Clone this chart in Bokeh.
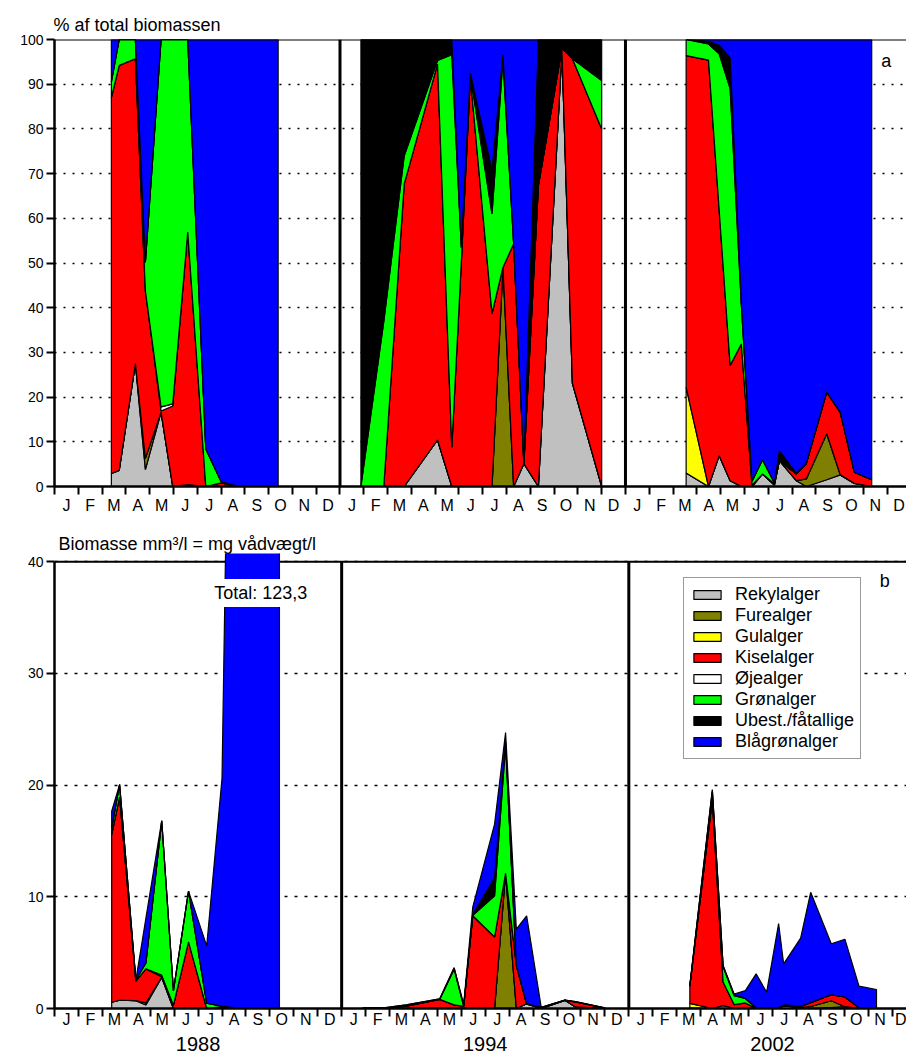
import numpy as np
from bokeh.plotting import figure
from bokeh.layouts import column
from bokeh.models import Range1d, FixedTicker, Span, Label, Legend, LegendItem, LinearAxis
from bokeh.embed import file_html
from bokeh.resources import INLINE

FONT = "Liberation Sans"
YEARS = ["1988", "1994", "2002"]
MONTHS = ["J", "F", "M", "A", "M", "J", "J", "A", "S", "O", "N", "D"]
GROUPS = ["Rekylalger", "Furealger", "Gulalger", "Kiselalger", "Øjealger",
          "Grønalger", "Ubest./fåtallige", "Blågrønalger"]
COLORS = ["#c0c0c0", "#808000", "#ffff00", "#ff0000", "#ffffff",
          "#00ff00", "#000000", "#0000ff"]

# sampling dates, months after 1 January of each year
t88 = [2.39, 2.72, 3.40, 3.82, 4.48, 4.97, 5.60, 6.36, 7.00, 7.75, 9.40]
t94 = [0.88, 1.84, 2.70, 4.10, 4.70, 5.10, 5.48, 6.39, 6.85, 7.30, 7.73, 8.34, 9.33, 9.77, 11.00]
t02 = [2.55, 3.49, 3.94, 4.40, 4.87, 5.32, 5.76, 6.26, 6.47, 7.18, 7.60, 8.46, 9.03, 9.62, 10.35]

# ---- a) % af total biomassen ----
a88_rek = [2.9, 3.6, 27.5, 3.8, 16.6, 0.0, 0.4, 0.0, 0.0, 0.0, 0.0]
a88_fur = [0.0, 0.0, 0.0, 2.5, 0.0, 0.0, 0.0, 0.0, 0.0, 0.0, 0.0]
a88_gul = [0.0, 0.0, 0.0, 0.0, 0.0, 0.0, 0.0, 0.0, 0.0, 0.0, 0.0]
a88_kis = [84.1, 90.6, 68.2, 37.5, 0.3, 18.0, 56.5, 0.0, 0.8, 0.0, 0.0]
a88_oje = [0.0, 0.0, 0.0, 0.0, 0.9, 0.5, 0.0, 0.0, 0.0, 0.0, 0.0]
a88_gro = [3.5, 5.8, 4.3, 6.4, 82.2, 81.5, 43.1, 8.4, 0.3, 0.0, 0.0]
a88_ube = [0.0, 0.0, 0.0, 0.0, 0.0, 0.0, 0.0, 0.0, 0.0, 0.0, 0.0]
a88_bla = [9.5, 0.0, 0.0, 49.8, 0.0, 0.0, 0.0, 91.6, 98.9, 100.0, 100.0]

a94_rek = [0.0, 0.0, 0.0, 10.4, 0.0, 0.0, 0.0, 0.0, 0.0, 0.0, 5.1, 0.0, 97.5, 23.1, 0.0]
a94_fur = [0.0, 0.0, 0.0, 0.0, 0.0, 0.0, 0.0, 0.0, 49.0, 0.0, 0.0, 0.0, 0.0, 0.0, 0.0]
a94_gul = [0.0, 0.0, 0.0, 0.0, 0.0, 0.0, 0.0, 0.0, 0.0, 0.0, 0.0, 0.0, 0.0, 0.0, 0.0]
a94_kis = [0.0, 0.0, 67.7, 84.1, 8.8, 50.2, 91.5, 38.7, 0.0, 54.3, 0.0, 67.3, 0.5, 72.6, 80.0]
a94_oje = [0.0, 0.0, 0.0, 0.0, 0.0, 0.0, 0.0, 0.0, 0.0, 0.0, 0.0, 0.0, 0.0, 0.0, 0.0]
a94_gro = [0.0, 36.9, 6.3, 0.8, 87.8, 3.3, 0.5, 22.3, 46.5, 0.0, 0.0, 0.0, 0.0, 0.0, 10.8]
a94_ube = [100.0, 63.1, 26.0, 4.7, 3.4, 0.0, 0.5, 9.7, 1.1, 0.0, 0.0, 32.7, 2.0, 4.3, 9.2]
a94_bla = [0.0, 0.0, 0.0, 0.0, 0.0, 46.5, 7.5, 29.3, 3.4, 45.7, 94.9, 0.0, 0.0, 0.0, 0.0]

a02_rek = [3.0, 0.0, 6.9, 1.3, 0.0, 0.0, 2.8, 0.3, 5.8, 1.3, 0.0, 1.5, 2.6, 0.7, 0.0]
a02_fur = [0.0, 0.0, 0.0, 0.0, 0.0, 0.0, 0.0, 0.0, 0.0, 0.0, 1.7, 10.3, 0.0, 0.0, 0.0]
a02_gul = [19.2, 0.0, 0.0, 0.0, 0.0, 0.0, 0.0, 0.0, 0.0, 0.0, 0.0, 0.0, 0.0, 0.0, 0.0]
a02_kis = [74.2, 95.4, 54.9, 25.8, 31.9, 0.3, 0.0, 0.3, 0.0, 1.5, 3.4, 9.3, 14.0, 2.5, 1.5]
a02_oje = [0.0, 0.0, 0.0, 0.0, 0.0, 0.0, 0.0, 0.0, 0.0, 0.0, 0.0, 0.0, 0.0, 0.0, 0.0]
a02_gro = [3.6, 3.6, 35.0, 61.9, 8.8, 0.9, 3.2, 0.2, 0.0, 0.0, 0.0, 0.0, 0.0, 0.0, 0.0]
a02_ube = [0.0, 0.6, 1.9, 6.9, 0.5, 0.0, 0.0, 0.0, 2.2, 0.2, 0.0, 0.0, 0.0, 0.0, 0.0]
a02_bla = [0.0, 0.4, 1.3, 4.1, 58.8, 98.8, 94.0, 99.2, 92.0, 97.0, 94.9, 78.9, 83.4, 96.8, 98.5]

# ---- b) Biomasse mm3/l ----
b88_rek = [0.56, 0.74, 0.70, 0.31, 2.79, 0.0, 0.04, 0.0, 0.0, 0.0, 0.0]
b88_fur = [0.0, 0.0, 0.0, 0.20, 0.0, 0.0, 0.0, 0.0, 0.0, 0.0, 0.0]
b88_gul = [0.0, 0.0, 0.0, 0.0, 0.0, 0.0, 0.0, 0.0, 0.0, 0.0, 0.0]
b88_kis = [15.0, 18.2, 1.74, 3.04, 0.05, 0.29, 5.93, 0.0, 0.16, 0.0, 0.0]
b88_oje = [0.0, 0.0, 0.0, 0.0, 0.15, 0.01, 0.0, 0.0, 0.0, 0.0, 0.0]
b88_gro = [0.6, 1.1, 0.11, 0.52, 13.81, 1.30, 4.53, 0.47, 0.06, 0.0, 0.0]
b88_ube = [0.0, 0.0, 0.0, 0.0, 0.0, 0.0, 0.0, 0.0, 0.0, 0.0, 0.0]
b88_bla = [1.5, 0.0, 0.0, 4.03, 0.0, 0.0, 0.0, 5.13, 20.38, 123.3, 45.0]

b94_rek = [0.0, 0.0, 0.0, 0.09, 0.0, 0.0, 0.0, 0.0, 0.0, 0.0, 0.42, 0.0, 0.73, 0.14, 0.0]
b94_fur = [0.0, 0.0, 0.0, 0.0, 0.0, 0.0, 0.0, 0.0, 12.1, 0.0, 0.0, 0.0, 0.0, 0.0, 0.0]
b94_gul = [0.0, 0.0, 0.0, 0.0, 0.0, 0.0, 0.0, 0.0, 0.0, 0.0, 0.0, 0.0, 0.0, 0.0, 0.0]
b94_kis = [0.0, 0.0, 0.22, 0.73, 0.32, 0.20, 8.30, 6.40, 0.0, 3.86, 0.0, 0.07, 0.004, 0.44, 0.04]
b94_oje = [0.0, 0.0, 0.0, 0.0, 0.0, 0.0, 0.0, 0.0, 0.0, 0.0, 0.0, 0.0, 0.0, 0.0, 0.0]
b94_gro = [0.0, 0.03, 0.02, 0.01, 3.20, 0.01, 0.05, 3.70, 11.50, 0.0, 0.0, 0.0, 0.0, 0.0, 0.005]
b94_ube = [0.05, 0.05, 0.08, 0.04, 0.12, 0.0, 0.05, 1.60, 0.27, 0.0, 0.0, 0.03, 0.015, 0.03, 0.005]
b94_bla = [0.0, 0.0, 0.0, 0.0, 0.0, 0.19, 0.70, 4.80, 0.84, 3.24, 7.88, 0.0, 0.0, 0.0, 0.0]

b02_rek = [0.06, 0.0, 0.27, 0.02, 0.0, 0.0, 0.04, 0.02, 0.23, 0.08, 0.0, 0.09, 0.16, 0.01, 0.0]
b02_fur = [0.0, 0.0, 0.0, 0.0, 0.0, 0.0, 0.0, 0.0, 0.0, 0.0, 0.18, 0.60, 0.0, 0.0, 0.0]
b02_gul = [0.40, 0.0, 0.0, 0.0, 0.0, 0.0, 0.0, 0.0, 0.0, 0.0, 0.0, 0.0, 0.0, 0.0, 0.0]
b02_kis = [1.53, 18.70, 2.11, 0.33, 0.50, 0.01, 0.0, 0.02, 0.0, 0.10, 0.35, 0.54, 0.87, 0.05, 0.03]
b02_oje = [0.0, 0.0, 0.0, 0.0, 0.0, 0.0, 0.0, 0.0, 0.0, 0.0, 0.0, 0.0, 0.0, 0.0, 0.0]
b02_gro = [0.07, 0.70, 1.35, 0.80, 0.40, 0.03, 0.05, 0.02, 0.0, 0.0, 0.0, 0.0, 0.0, 0.0, 0.0]
b02_ube = [0.0, 0.12, 0.07, 0.09, 0.01, 0.0, 0.0, 0.0, 0.09, 0.01, 0.0, 0.0, 0.0, 0.0, 0.0]
b02_bla = [0.0, 0.08, 0.05, 0.06, 0.69, 3.06, 1.37, 7.54, 3.68, 6.11, 9.87, 4.57, 5.17, 1.94, 1.67]

T_DATA = [t88, t94, t02]
A_DATA = [
    [a88_rek, a88_fur, a88_gul, a88_kis, a88_oje, a88_gro, a88_ube, a88_bla],
    [a94_rek, a94_fur, a94_gul, a94_kis, a94_oje, a94_gro, a94_ube, a94_bla],
    [a02_rek, a02_fur, a02_gul, a02_kis, a02_oje, a02_gro, a02_ube, a02_bla],
]
B_DATA = [
    [b88_rek, b88_fur, b88_gul, b88_kis, b88_oje, b88_gro, b88_ube, b88_bla],
    [b94_rek, b94_fur, b94_gul, b94_kis, b94_oje, b94_gro, b94_ube, b94_bla],
    [b02_rek, b02_fur, b02_gul, b02_kis, b02_oje, b02_gro, b02_ube, b02_bla],
]
N_MONTHS = 12 * len(YEARS)


def stacked_polys(data):
    polys = [([], []) for _ in GROUPS]
    for yi, (t, series) in enumerate(zip(T_DATA, data)):
        x = np.array(t, dtype=float) + 12 * yi
        base = np.zeros(len(t))
        for k, vals in enumerate(series):
            top = base + np.array(vals, dtype=float)
            polys[k][0].append(list(np.concatenate([x, x[::-1]])))
            polys[k][1].append(list(np.concatenate([top, base[::-1]])))
            base = top
    return polys


def make_fig(height, left, top, bottom, xend, yend, ytop, yticks, title, title_off, standoff, dash, lab_standoff):
    p = figure(width=906, height=height, x_range=Range1d(0, xend), y_range=Range1d(0, yend),
               output_backend="svg", toolbar_location=None, title=title,
               min_border_left=left, min_border_right=0, min_border_top=top,
               min_border_bottom=bottom)
    p.outline_line_color = None
    p.background_fill_color = "white"
    p.border_fill_color = "white"
    p.title.align = "left"
    p.title.offset = title_off
    p.title.standoff = standoff
    p.title.text_font = FONT
    p.title.text_font_size = "18px"
    p.title.text_font_style = "normal"
    p.title.text_color = "black"

    p.xgrid.visible = False
    p.ygrid.grid_line_color = "black"
    p.ygrid.grid_line_dash = dash
    p.ygrid.grid_line_width = 1.3

    xa = p.xaxis[0]
    xa.ticker = FixedTicker(ticks=[m + 0.5 for m in range(N_MONTHS)],
                            minor_ticks=list(range(N_MONTHS + 1)))
    xa.major_label_overrides = {m + 0.5: MONTHS[m % 12] for m in range(N_MONTHS)}
    xa.major_tick_line_color = None
    xa.major_tick_out = 0
    xa.major_tick_in = 0
    xa.minor_tick_line_color = "black"
    xa.minor_tick_line_width = 2
    xa.minor_tick_out = 8
    xa.minor_tick_in = 0
    xa.axis_line_width = 2.5
    xa.axis_line_color = "black"
    xa.major_label_text_font = FONT
    xa.major_label_text_font_size = "16px"
    xa.major_label_text_color = "black"
    xa.major_label_standoff = lab_standoff

    ya = p.yaxis[0]
    ya.ticker = FixedTicker(ticks=yticks)
    ya.bounds = (0, ytop)
    ya.minor_tick_line_color = None
    ya.major_tick_out = 8
    ya.major_tick_in = 0
    ya.major_tick_line_width = 2
    ya.major_tick_line_color = "black"
    ya.axis_line_width = 2.5
    ya.axis_line_color = "black"
    ya.major_label_text_font = FONT
    ya.major_label_text_font_size = "14px"
    ya.major_label_text_color = "black"
    ya.major_label_standoff = 3
    return p


# ---------- panel a ----------
pa = make_fig(530, 49, 39, 44, 857 / 23.93, 100, 100, list(range(0, 101, 10)),
              "% af total biomassen", -1, 10, "2 7", 2)
polys_a = stacked_polys(A_DATA)
for k in range(len(GROUPS)):
    pa.patches(xs=polys_a[k][0], ys=polys_a[k][1], fill_color=COLORS[k],
               line_color="black", line_width=1.2)
pa.add_layout(Span(location=100, dimension="width", line_color="black", line_width=2))
for i in range(1, len(YEARS)):
    pa.add_layout(Span(location=12 * i, dimension="height", line_color="black", line_width=3))
pa.add_layout(Label(x=34.96, y=95.3, text="a", text_font=FONT, text_font_size="18px",
                    text_align="center", text_baseline="middle", text_color="black"))

# ---------- panel b ----------
pb = make_fig(527, 54, 23, 49, 852 / 23.93, 455 / 11.17, 40, [0, 10, 20, 30, 40],
              "Biomasse mm³/l = mg vådvægt/l", 4, 0, "3 7", -6)
polys_b = stacked_polys(B_DATA)
rb = []
for k in range(len(GROUPS)):
    rb.append(pb.patches(xs=polys_b[k][0], ys=polys_b[k][1], fill_color=COLORS[k],
                         line_color="black", line_width=1.2))
pb.add_layout(Span(location=40, dimension="width", line_color="black", line_width=2,
                   level="underlay"))
seps = [12 * i for i in range(1, len(YEARS))]
pb.segment(x0=seps, y0=[0] * len(seps), x1=seps, y1=[40] * len(seps),
           line_color="black", line_width=3)
pb.add_layout(Label(x=34.69, y=38.3, text="b", text_font=FONT, text_font_size="18px",
                    text_align="center", text_baseline="middle", text_color="black"))
total = "Total: " + ("%.1f" % max(b88_bla)).replace(".", ",")
pb.add_layout(Label(x=8.62, y=37.2, text=total, text_font=FONT, text_font_size="18px",
                    text_align="center", text_baseline="middle", text_color="black",
                    background_fill_color="white", padding=4))

year_axis = LinearAxis(ticker=FixedTicker(ticks=[12 * i + 6 for i in range(len(YEARS))]),
                       major_label_overrides={12 * i + 6: yr for i, yr in enumerate(YEARS)},
                       axis_line_color=None, major_tick_line_color=None,
                       minor_tick_line_color=None, major_tick_out=0, major_tick_in=0,
                       minor_tick_out=0, minor_tick_in=0,
                       major_label_standoff=6, major_label_text_font=FONT,
                       major_label_text_font_size="20px", major_label_text_color="black")
pb.add_layout(year_axis, "below")

legend = Legend(items=[LegendItem(label=g, renderers=[rb[k]]) for k, g in enumerate(GROUPS)],
                location=(629, 249), margin=0, padding=6, spacing=0,
                glyph_width=34, glyph_height=11, label_height=21, label_standoff=11,
                label_text_font=FONT, label_text_font_size="18px", label_text_color="black",
                border_line_color="#333333", border_line_width=1.2,
                background_fill_color="white", background_fill_alpha=1.0)
pb.add_layout(legend)

layout = column(pa, pb)
open("out.html", "w").write(file_html(layout, INLINE))
